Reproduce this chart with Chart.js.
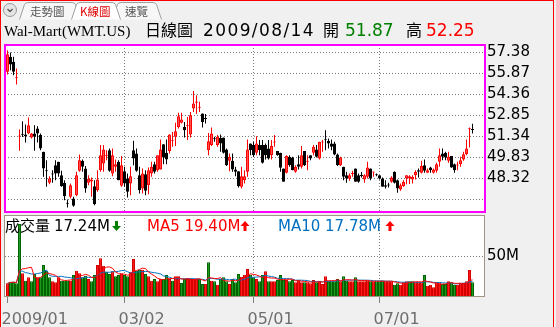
<!DOCTYPE html>
<html>
<head>
<meta charset="utf-8">
<script src="https://cdn.jsdelivr.net/npm/chart.js@4"></script>
<style>
  body { margin: 0; background: #f0f0f0; }
  #wrap { position: relative; width: 556px; height: 327px; overflow: hidden; background: #f0f0f0; }
  canvas, svg { position: absolute; left: 0; top: 0; }
  #frame { position: absolute; left: 0; top: 0; width: 552px; height: 340px; border: 1px solid #ff0000; }
</style>
</head>
<body>
<div id="wrap">
  <canvas id="priceChart" width="556" height="327"></canvas>
  <canvas id="volChart" width="556" height="327"></canvas>
  <svg width="556" height="327" font-family="DejaVu Sans">
    <!-- tabs -->
    <path d="M19.5 19.5 L24.5 4.5 Q25.5 2.5 28 2.5 L72 2.5 Q74.5 2.5 75.5 4.5 L80.5 19.5" fill="#f7f7f7" stroke="#a0a0a0"/>
    <path d="M112.5 19.5 L117.5 4.5 Q118.5 2.5 121 2.5 L153 2.5 Q155.5 2.5 156.5 4.5 L161.5 19.5" fill="#f7f7f7" stroke="#a0a0a0"/>
    <path d="M71.5 19.5 L76.5 4.5 Q77.5 2.5 80 2.5 L112 2.5 Q114.5 2.5 115.5 4.5 L120.5 19.5" fill="#ffffff" stroke="#a0a0a0"/>
    <circle cx="10" cy="10" r="6.5" fill="#e4e4e4" stroke="#9a9a9a"/>
    <path d="M7.5 9 L10 11.5 L12.5 9" fill="none" stroke="#555" stroke-width="1.4"/>
    <g font-family="Noto Sans CJK TC" font-size="11.5">
      <text x="30" y="16" fill="#555">走勢圖</text>
      <text x="80" y="16" fill="#e00000">K線圖</text>
      <text x="125" y="16" fill="#555">速覽</text>
    </g>
    <!-- title -->
    <text x="4" y="36" font-family="Liberation Serif" font-size="15" fill="#000">Wal-Mart(WMT.US)</text>
    <text x="145" y="36" font-family="Noto Sans CJK TC" font-size="16" fill="#000">日線圖</text>
    <text x="203" y="36" font-size="17" letter-spacing="1.4" fill="#000">2009/08/14</text>
    <text x="323" y="36" font-family="Noto Sans CJK TC" font-size="16" fill="#000">開</text>
    <text x="345" y="36" font-size="17" fill="#008000">51.87</text>
    <text x="406" y="36" font-family="Noto Sans CJK TC" font-size="16" fill="#000">高</text>
    <text x="426" y="36" font-size="17" fill="#ff0000">52.25</text>
    <!-- volume header -->
    <text x="5" y="231" font-family="Noto Sans CJK TC" font-size="15" fill="#000">成交量</text>
    <text x="54" y="231" font-size="15" fill="#000">17.24M</text>
    <polygon points="115,221 118,221 118,226 121,226 116.5,231 112,226 115,226" fill="#008000"/>
    <text x="147" y="231" font-size="15" fill="#ff0000">MA5 19.40M</text>
    <polygon points="243.5,231 246.5,231 246.5,226 249.5,226 245,221 240.5,226 243.5,226" fill="#ff0000"/>
    <text x="278" y="231" font-size="15" fill="#0070c0">MA10 17.78M</text>
    <polygon points="388.5,231 391.5,231 391.5,226 394.5,226 390,221 385.5,226 388.5,226" fill="#ff0000"/>
  </svg>
  <div id="frame"></div>
</div>
<script>
// daily bars, 2009/01/02 .. 2009/08/14 (index = trading day)
const opens = [
  55.99, 57.07, 56.71, 55.52, 51.34, 51.50, 51.48, 51.56, 51.27, 51.55,
  51.91, 51.44, 50.24, 48.90, 48.01, 48.66, 49.28, 49.52, 48.56, 48.01,
  46.55, 47.00, 46.88, 47.12, 48.87, 49.59, 49.04, 48.01, 48.10, 47.77,
  47.48, 48.92, 49.40, 49.95, 50.36, 48.68, 49.16, 49.52, 47.79, 48.85,
  48.32, 47.96, 50.36, 50.12, 48.56, 47.60, 48.63, 47.84, 48.68, 49.35,
  48.92, 48.97, 50.79, 50.17, 50.29, 51.03, 51.32, 52.03, 52.32, 52.03,
  52.08, 51.48, 53.35, 53.76, 53.40, 52.99, 52.65, 50.36, 50.72, 51.20,
  50.72, 51.24, 51.27, 50.40, 49.59, 49.59, 48.97, 48.85, 47.72, 48.20,
  48.80, 50.84, 50.72, 50.17, 50.72, 50.72, 50.72, 50.48, 50.00, 50.90,
  50.29, 50.17, 49.04, 48.73, 49.88, 49.83, 48.80, 49.35, 49.16, 50.29,
  49.52, 50.00, 50.17, 50.40, 49.76, 50.90, 51.15, 51.03, 50.84, 50.84,
  50.05, 49.28, 49.16, 48.56, 48.30, 48.64, 49.04, 48.56, 48.59, 48.25,
  48.44, 49.04, 48.75, 48.63, 48.56, 48.32, 47.84, 47.86, 48.08, 48.78,
  48.20, 47.53, 47.77, 48.32, 48.32, 48.25, 48.56, 48.92, 48.73, 49.28,
  48.73, 49.11, 48.73, 48.87, 49.52, 50.12, 50.17, 49.59, 49.93, 49.35,
  49.26, 49.35, 49.69, 50.07, 51.86, 51.87
];
const highs = [
  57.55, 57.38, 57.07, 56.23, 51.84, 52.44, 52.20, 52.71, 51.60, 52.15,
  52.08, 51.55, 50.24, 49.64, 48.49, 48.92, 49.64, 49.52, 48.87, 48.20,
  46.81, 47.96, 47.00, 48.80, 50.05, 49.69, 49.21, 48.56, 48.39, 48.20,
  48.92, 50.72, 50.72, 50.36, 50.48, 50.48, 49.69, 49.64, 49.93, 49.16,
  48.68, 49.16, 51.03, 50.48, 49.16, 49.04, 48.92, 49.11, 49.52, 49.52,
  50.00, 51.12, 50.79, 51.12, 51.51, 51.67, 52.32, 53.04, 53.04, 52.39,
  52.75, 53.11, 54.62, 54.31, 53.83, 52.99, 52.95, 51.60, 51.99, 51.32,
  51.44, 51.48, 51.27, 50.48, 50.12, 50.12, 49.16, 48.85, 49.16, 48.92,
  51.12, 50.84, 50.96, 51.36, 51.08, 51.08, 50.84, 51.08, 51.08, 51.44,
  50.29, 50.17, 49.04, 50.00, 50.00, 49.88, 49.28, 50.00, 50.65, 50.29,
  50.00, 50.00, 50.72, 50.72, 50.96, 51.08, 51.79, 51.20, 51.12, 50.96,
  50.12, 49.88, 49.16, 48.80, 48.68, 48.87, 49.04, 48.68, 48.78, 48.63,
  49.52, 49.04, 48.80, 48.68, 48.56, 48.39, 48.20, 48.01, 48.49, 48.85,
  48.25, 47.96, 48.20, 48.56, 48.56, 48.56, 48.92, 49.04, 49.59, 49.69,
  49.04, 49.16, 49.04, 49.45, 50.48, 50.48, 50.24, 50.24, 49.93, 49.40,
  49.52, 49.88, 50.24, 51.12, 51.99, 52.25
];
const lows = [
  55.80, 56.11, 55.75, 55.08, 50.31, 51.31, 50.90, 51.51, 51.20, 50.31,
  50.90, 50.36, 48.44, 47.72, 47.91, 48.01, 48.20, 48.44, 47.72, 46.76,
  46.24, 46.88, 46.29, 47.05, 48.80, 48.80, 47.29, 47.84, 47.00, 46.40,
  47.36, 48.80, 48.80, 49.64, 48.80, 48.49, 48.80, 48.20, 47.72, 47.72,
  46.95, 47.12, 49.28, 48.80, 47.24, 47.24, 47.12, 47.19, 48.44, 48.68,
  48.80, 48.97, 49.35, 49.35, 50.12, 50.60, 50.65, 51.91, 52.27, 51.27,
  51.08, 51.27, 53.11, 52.95, 53.11, 51.99, 52.27, 50.00, 50.65, 50.96,
  50.60, 50.24, 50.12, 49.21, 48.85, 48.80, 48.49, 47.67, 47.60, 47.96,
  48.44, 50.00, 49.88, 50.00, 50.00, 49.40, 49.69, 49.69, 49.69, 50.60,
  49.95, 48.80, 48.08, 48.68, 49.16, 48.92, 48.73, 48.97, 49.04, 49.21,
  48.92, 49.64, 50.00, 49.83, 49.69, 50.24, 50.36, 50.48, 50.36, 50.00,
  49.21, 49.21, 48.20, 48.01, 48.15, 48.44, 48.08, 48.01, 48.39, 48.01,
  48.32, 48.20, 48.44, 48.49, 48.25, 47.72, 47.60, 47.67, 48.01, 47.96,
  47.29, 47.43, 47.72, 47.91, 47.93, 47.96, 48.25, 48.39, 48.68, 48.73,
  48.73, 48.73, 48.68, 48.73, 49.16, 49.64, 49.64, 49.45, 49.09, 48.73,
  48.92, 49.16, 49.59, 50.00, 50.55, 51.55
];
const closes = [
  57.26, 56.52, 55.99, 55.60, 51.38, 51.46, 51.36, 52.15, 51.55, 51.32,
  51.55, 50.48, 49.04, 48.85, 48.32, 48.60, 48.68, 48.68, 47.77, 47.05,
  46.50, 47.84, 46.36, 48.56, 49.64, 49.16, 47.60, 48.30, 48.25, 46.47,
  48.25, 50.00, 50.40, 50.02, 48.87, 50.00, 49.35, 48.20, 49.28, 47.96,
  47.36, 48.49, 49.76, 48.87, 47.48, 48.68, 47.43, 48.92, 49.16, 48.80,
  50.00, 50.40, 49.83, 49.69, 51.48, 51.10, 51.72, 52.80, 52.56, 51.79,
  52.13, 52.87, 53.71, 53.86, 53.45, 52.39, 52.60, 51.00, 51.56, 51.15,
  51.32, 50.84, 50.17, 49.28, 49.88, 48.97, 48.80, 47.77, 48.49, 48.49,
  50.40, 50.36, 50.00, 50.84, 50.36, 49.45, 50.00, 49.76, 50.65, 50.96,
  50.00, 49.09, 48.08, 49.93, 49.28, 48.92, 49.16, 49.16, 50.00, 49.28,
  49.59, 49.76, 50.60, 49.88, 50.96, 50.96, 51.10, 50.84, 50.60, 50.05,
  49.28, 49.83, 48.44, 48.32, 48.56, 48.70, 48.08, 48.08, 48.49, 48.56,
  49.11, 48.32, 48.80, 48.56, 48.32, 47.72, 47.72, 47.81, 48.39, 48.01,
  47.60, 47.84, 48.08, 48.56, 48.49, 48.44, 48.78, 48.80, 49.21, 48.87,
  48.92, 48.92, 48.97, 49.35, 50.00, 49.88, 49.83, 49.88, 49.11, 48.92,
  49.30, 49.64, 50.07, 50.48, 51.92, 51.80
];
// volume in millions of shares
const volumes = [
  15.8, 17.9, 17.9, 15.8, 90.0, 28.3, 19.2, 23.3, 18.3, 27.5,
  23.3, 23.3, 38.8, 31.7, 23.3, 18.3, 17.1, 23.3, 19.2, 19.2,
  19.2, 19.2, 26.3, 31.7, 28.3, 23.3, 25.4, 21.3, 18.3, 26.3,
  38.8, 47.1, 37.9, 30.4, 27.5, 30.8, 24.6, 26.3, 28.3, 26.3,
  24.6, 30.4, 46.3, 31.7, 32.9, 32.9, 27.5, 24.6, 19.2, 21.3,
  18.3, 21.3, 21.3, 26.3, 21.3, 19.2, 24.6, 24.6, 16.3, 21.3,
  21.3, 21.3, 21.3, 21.3, 21.3, 15.0, 15.0, 42.1, 19.2, 18.3,
  14.2, 21.3, 23.3, 18.3, 15.0, 21.3, 17.1, 27.5, 24.2, 26.7,
  33.8, 26.7, 23.3, 21.3, 18.3, 26.3, 30.8, 18.3, 18.3, 18.3,
  20.0, 26.3, 20.0, 20.0, 18.3, 20.0, 17.1, 20.0, 17.1, 17.1,
  17.1, 15.8, 20.0, 17.1, 19.2, 15.0, 24.6, 19.2, 18.3, 18.3,
  21.3, 18.3, 24.6, 19.2, 18.3, 18.3, 23.3, 18.3, 18.3, 18.3,
  19.2, 18.3, 18.3, 18.3, 18.3, 19.2, 18.3, 18.3, 18.3, 14.2,
  15.8, 14.2, 17.1, 18.3, 18.3, 18.3, 17.1, 17.1, 17.1, 26.3,
  12.9, 14.2, 10.8, 17.1, 17.1, 15.0, 15.0, 18.3, 17.1, 14.2,
  14.2, 16.3, 16.3, 18.3, 32.5, 17.24
];

const monthTickIdx = [0, 39, 82, 124];
const monthLabels = ['2009/01', '03/02', '05/01', '07/01'];
const priceTicks = [57.38, 55.87, 54.36, 52.85, 51.34, 49.83, 48.32, 46.81];
const priceTickLabels = ['57.38', '55.87', '54.36', '52.85', '51.34', '49.83', '48.32', ''];
const volTicks = [50];
const volTickLabels = ['50M'];

Chart.defaults.font.family = 'DejaVu Sans';
Chart.defaults.animation = false;

const xMin = -2.5 / 3;
const xMax = 155 + 12.5 / 3;

const isUp = closes.map((c, i) => c >= opens[i]);
const candleLine = isUp.map(u => u ? '#ff0000' : '#000000');
const candleFill = isUp.map(u => u ? '#ff5050' : '#000000');
const volUp = closes.map((c, i) => c >= (i === 0 ? opens[0] : closes[i - 1]));

function movingAvg(arr, n) {
  return arr.map((v, i) => {
    const part = arr.slice(Math.max(0, i - n + 1), i + 1);
    return part.reduce((a, b) => a + b, 0) / part.length;
  });
}
const ma5 = movingAvg(volumes, 5);
const ma10 = movingAvg(volumes, 10);

function panel(fill, stroke, width, inset) {
  return {
    id: 'panel',
    beforeDraw(chart) {
      const { ctx, chartArea: a } = chart;
      ctx.save();
      ctx.fillStyle = fill;
      ctx.fillRect(a.left, a.top, a.right - a.left, a.bottom - a.top);
      ctx.restore();
    },
    afterDraw(chart) {
      const { ctx, chartArea: a } = chart;
      ctx.save();
      ctx.strokeStyle = stroke;
      ctx.lineWidth = width;
      ctx.strokeRect(a.left + inset.x, a.top + inset.y, a.right - a.left, a.bottom - a.top);
      ctx.restore();
    }
  };
}

const gridColor = c => (c.tick && c.tick.value === 0) ? 'rgba(0,0,0,0)' : '#7a7a7a';

new Chart(document.getElementById('priceChart').getContext('2d'), {
  type: 'bar',
  data: {
    datasets: [
      {
        label: 'body',
        data: opens.map((o, i) => ({ x: i, y: [o, closes[i]] })),
        backgroundColor: candleFill,
        borderColor: candleLine,
        borderWidth: 1,
        borderSkipped: false,
        barThickness: 3,
        minBarLength: 1,
        inflateAmount: 0,
        grouped: false,
        order: 0
      },
      {
        label: 'wick',
        data: lows.map((l, i) => ({ x: i, y: [l, highs[i]] })),
        backgroundColor: candleLine,
        borderWidth: 0,
        barThickness: 1,
        inflateAmount: 0,
        grouped: false,
        order: 1
      }
    ]
  },
  options: {
    responsive: false,
    layout: { padding: { left: 5, top: 45, right: 0, bottom: 115 } },
    plugins: { legend: { display: false }, tooltip: { enabled: false } },
    scales: {
      x: {
        type: 'linear',
        offset: false,
        min: xMin,
        max: xMax,
        afterBuildTicks: s => { s.ticks = monthTickIdx.map(v => ({ value: v })); },
        afterFit: s => { s.height = 0; },
        ticks: { display: false },
        grid: { color: gridColor, drawTicks: false, offset: false },
        border: { display: false, dash: [1, 2] }
      },
      y: {
        position: 'right',
        min: 45.911,
        max: 57.919,
        afterBuildTicks: s => { s.ticks = priceTicks.map(v => ({ value: v })); },
        afterFit: s => { s.width = 71; },
        ticks: {
          padding: 2,
          color: '#000',
          font: { size: 15 },
          callback: (v, i) => priceTickLabels[i]
        },
        grid: { color: '#7a7a7a', drawTicks: false },
        border: { display: false, dash: [1, 2] }
      }
    }
  },
  plugins: [panel('#ffffff', '#ff00ff', 2, { x: 0, y: 0 })]
});

new Chart(document.getElementById('volChart').getContext('2d'), {
  type: 'bar',
  data: {
    datasets: [
      {
        type: 'line',
        label: 'MA5',
        data: ma5.map((v, i) => ({ x: i, y: v })),
        borderColor: '#ff0000',
        borderWidth: 1,
        pointRadius: 0,
        tension: 0,
        order: 0
      },
      {
        type: 'line',
        label: 'MA10',
        data: ma10.map((v, i) => ({ x: i, y: v })),
        borderColor: '#0070c0',
        borderWidth: 1,
        pointRadius: 0,
        tension: 0,
        order: 0
      },
      {
        label: 'volume',
        data: volumes.map((v, i) => ({ x: i, y: v })),
        backgroundColor: volUp.map(u => u ? '#ff1a1a' : '#1f9a1f'),
        borderColor: volUp.map(u => u ? '#d40000' : '#006400'),
        borderWidth: 1,
        borderSkipped: 'start',
        barThickness: 3,
        inflateAmount: 0,
        order: 1
      }
    ]
  },
  options: {
    responsive: false,
    layout: { padding: { left: 5, top: 215, right: 0, bottom: 0 } },
    plugins: { legend: { display: false }, tooltip: { enabled: false } },
    scales: {
      x: {
        type: 'linear',
        offset: false,
        min: xMin,
        max: xMax,
        afterBuildTicks: s => { s.ticks = monthTickIdx.map(v => ({ value: v })); },
        afterFit: s => { s.height = 31; s.paddingLeft = 0; s.paddingRight = 0; },
        ticks: {
          autoSkip: false,
          maxRotation: 0,
          align: 'start',
          labelOffset: -6,
          padding: 7,
          color: '#6e6e6e',
          font: { size: 16 },
          callback: (v, i) => monthLabels[i]
        },
        grid: { color: gridColor, tickColor: '#808080', tickLength: 7, offset: false },
        border: { display: false, dash: [1, 2] }
      },
      y: {
        position: 'right',
        min: 0,
        max: 101.25,
        afterBuildTicks: s => { s.ticks = volTicks.map(v => ({ value: v })); },
        afterFit: s => { s.width = 71; },
        ticks: {
          padding: 2,
          color: '#000',
          font: { size: 15 },
          callback: (v, i) => volTickLabels[i]
        },
        grid: { color: '#7a7a7a', drawTicks: false },
        border: { display: false, dash: [1, 2] }
      }
    }
  },
  plugins: [panel('#ffffff', '#a09484', 1, { x: -0.5, y: 0.5 })]
});
</script>
</body>
</html>
